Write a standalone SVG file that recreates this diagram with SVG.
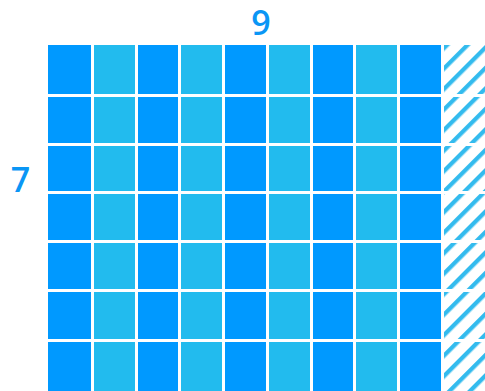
<svg xmlns="http://www.w3.org/2000/svg" width="485" height="391" viewBox="0 0 485 391">
<style>
.d{fill:#0099FF}
.l{fill:#22BBEE}
.h{fill:url(#hatch)}
.lbl{font-family:"Open Sans","Liberation Sans",sans-serif;font-size:34px;font-weight:600;fill:#0A96F5;text-anchor:middle}
</style>
<defs>
<pattern id="hatch" patternUnits="userSpaceOnUse" width="14.5" height="14.5" patternTransform="translate(444 45) rotate(45)">
<rect x="0" y="0" width="4.3" height="14.5" fill="#33BBEE"/>
</pattern>
</defs>
<rect width="485" height="391" fill="#FFFFFF"/>
<g id="col1" class="d">
<rect x="48" y="45" width="43" height="49"/><rect x="48" y="97" width="43" height="46"/><rect x="48" y="146" width="43" height="45"/><rect x="48" y="194" width="43" height="46"/><rect x="48" y="243" width="43" height="46"/><rect x="48" y="292" width="43" height="47"/><rect x="48" y="342" width="43" height="49"/>
</g>
<g id="col2" class="l">
<rect x="94" y="45" width="41" height="49"/><rect x="94" y="97" width="41" height="46"/><rect x="94" y="146" width="41" height="45"/><rect x="94" y="194" width="41" height="46"/><rect x="94" y="243" width="41" height="46"/><rect x="94" y="292" width="41" height="47"/><rect x="94" y="342" width="41" height="49"/>
</g>
<g id="col3" class="d">
<rect x="138" y="45" width="40" height="49"/><rect x="138" y="97" width="40" height="46"/><rect x="138" y="146" width="40" height="45"/><rect x="138" y="194" width="40" height="46"/><rect x="138" y="243" width="40" height="46"/><rect x="138" y="292" width="40" height="47"/><rect x="138" y="342" width="40" height="49"/>
</g>
<g id="col4" class="l">
<rect x="181" y="45" width="41" height="49"/><rect x="181" y="97" width="41" height="46"/><rect x="181" y="146" width="41" height="45"/><rect x="181" y="194" width="41" height="46"/><rect x="181" y="243" width="41" height="46"/><rect x="181" y="292" width="41" height="47"/><rect x="181" y="342" width="41" height="49"/>
</g>
<g id="col5" class="d">
<rect x="225" y="45" width="41" height="49"/><rect x="225" y="97" width="41" height="46"/><rect x="225" y="146" width="41" height="45"/><rect x="225" y="194" width="41" height="46"/><rect x="225" y="243" width="41" height="46"/><rect x="225" y="292" width="41" height="47"/><rect x="225" y="342" width="41" height="49"/>
</g>
<g id="col6" class="l">
<rect x="269" y="45" width="41" height="49"/><rect x="269" y="97" width="41" height="46"/><rect x="269" y="146" width="41" height="45"/><rect x="269" y="194" width="41" height="46"/><rect x="269" y="243" width="41" height="46"/><rect x="269" y="292" width="41" height="47"/><rect x="269" y="342" width="41" height="49"/>
</g>
<g id="col7" class="d">
<rect x="313" y="45" width="40" height="49"/><rect x="313" y="97" width="40" height="46"/><rect x="313" y="146" width="40" height="45"/><rect x="313" y="194" width="40" height="46"/><rect x="313" y="243" width="40" height="46"/><rect x="313" y="292" width="40" height="47"/><rect x="313" y="342" width="40" height="49"/>
</g>
<g id="col8" class="l">
<rect x="356" y="45" width="41" height="49"/><rect x="356" y="97" width="41" height="46"/><rect x="356" y="146" width="41" height="45"/><rect x="356" y="194" width="41" height="46"/><rect x="356" y="243" width="41" height="46"/><rect x="356" y="292" width="41" height="47"/><rect x="356" y="342" width="41" height="49"/>
</g>
<g id="col9" class="d">
<rect x="400" y="45" width="41" height="49"/><rect x="400" y="97" width="41" height="46"/><rect x="400" y="146" width="41" height="45"/><rect x="400" y="194" width="41" height="46"/><rect x="400" y="243" width="41" height="46"/><rect x="400" y="292" width="41" height="47"/><rect x="400" y="342" width="41" height="49"/>
</g>
<g id="col10" class="h">
<rect x="444" y="45" width="41" height="49"/><rect x="444" y="97" width="41" height="46"/><rect x="444" y="146" width="41" height="45"/><rect x="444" y="194" width="41" height="46"/><rect x="444" y="243" width="41" height="46"/><rect x="444" y="292" width="41" height="47"/><rect x="444" y="342" width="41" height="49"/>
</g>
<g id="connectors"></g>
<g id="label-cols"><text class="lbl" x="261" y="35">9</text></g>
<g id="label-rows"><text class="lbl" x="20.5" y="192">7</text></g>
</svg>
